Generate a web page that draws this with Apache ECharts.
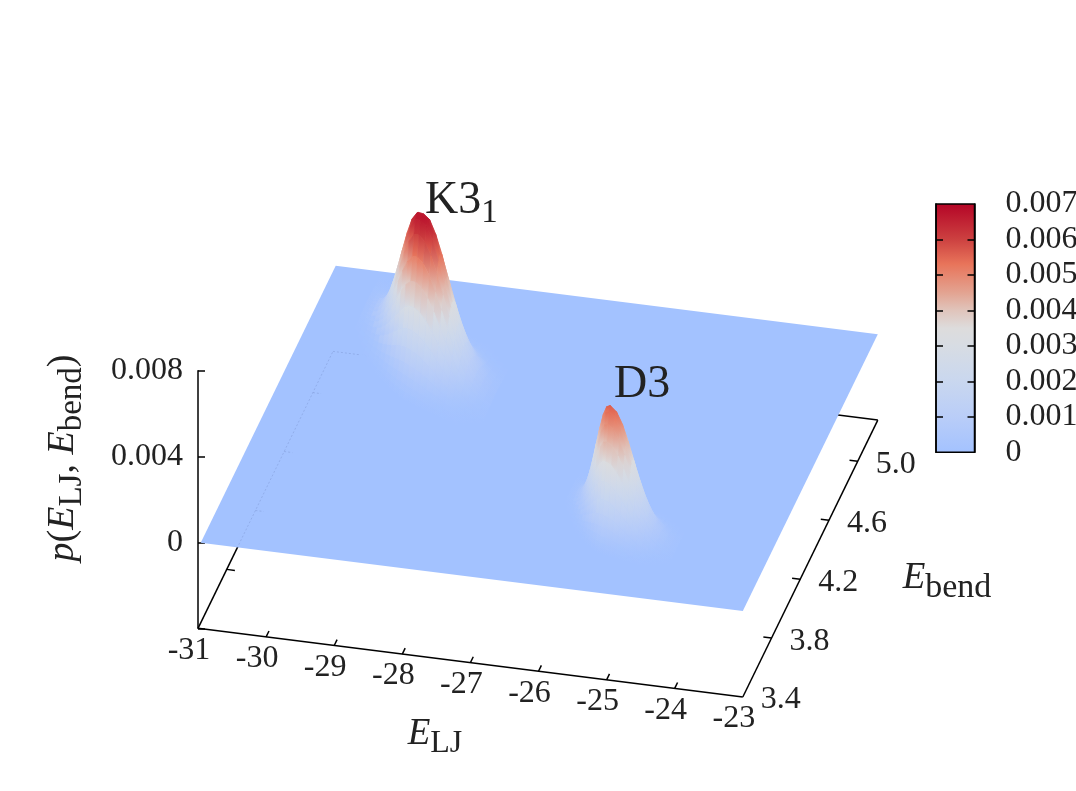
<!DOCTYPE html>
<html><head><meta charset="utf-8">
<style>html,body{margin:0;padding:0;background:#fff}#c{width:1076px;height:791px}</style>
<script src="https://cdn.jsdelivr.net/npm/echarts@6/dist/echarts.min.js"></script></head>
<body><div id="c"></div>
<script>
// tick labels
const eTicks=[-31,-30,-29,-28,-27,-26,-25,-24,-23];
const bendTicks=[3.4,3.8,4.2,4.6,5.0];
const zTicks=[0.008,0.004,0];
const colorbarTicks=[0,0.001,0.002,0.003,0.004,0.005,0.006,0.007];
const eRange=[-31,-23];
const bendRange=[3.4,5.28];
const zRange=[-0.004,0.008];
// extent of the p = 0 sheet
const planeE=[-30.96,-23];
// colour scale
const paletteValues=[0,0.001,0.002,0.003,0.0035,0.004,0.0045,0.0053,0.006,0.007];
const paletteColors=['#a3c2ff','#b9cdf8','#c9d7ef','#d7dce3','#dddcdc','#e0c4bb','#e3a391','#e8745a','#cc4040','#b40426'];
// K3_1 peak: ridge line and one quadrant of p (units 1e-6); the peak is read as symmetric about its ridge
const k31E=[-30.27,-30.175,-30.08,-29.985,-29.89,-29.795,-29.70,-29.605,-29.51,-29.415,-29.32,-29.225,-29.13,-29.025,-28.92,-28.815,-28.71,-28.605,-28.50,-28.395,-28.29,-28.185,-28.08,-27.975,-27.87];
const k31Ridge=[5.07,5.041,5.012,4.983,4.954,4.925,4.896,4.867,4.839,4.813,4.789,4.767,4.747,4.730,4.715,4.701,4.687,4.673,4.659,4.645,4.631,4.617,4.603,4.589,4.575];
const k31BendStep=0.022;
const k31Quad=[
[6750,6650,6137,5247,4219,3183,2259,1501,938,556,306,160,0],
[6680,6546,5965,5100,4100,3094,2195,1459,912,540,297,155,0],
[6206,6014,5480,4686,3767,2842,2017,1340,838,496,273,143,0],
[5386,5219,4756,4066,3269,2467,1750,1163,727,431,237,124,0],
[4413,4276,3897,3332,2679,2021,1434,953,596,353,194,101,0],
[3419,3313,3019,2581,2075,1566,1111,739,462,274,150,79,0],
[2502,2424,2209,1889,1519,1146,813,540,338,200,110,58,0],
[1731,1677,1528,1307,1051,793,563,374,234,138,76,40,0],
[1133,1098,1000,855,688,519,368,245,153,91,50,26,0],
[699,677,617,528,424,320,227,151,94,56,31,16,0],
[408,395,360,308,248,187,133,88,55,33,18,9,0],
[225,218,199,170,137,103,73,49,30,18,10,5,0],
[117,113,103,88,71,54,38,25,16,9,5,3,0]];
// D3 peak
const d3E=[-26.19,-26.125,-26.06,-25.995,-25.93,-25.865,-25.80,-25.735,-25.67,-25.605,-25.54,-25.475,-25.41,-25.32,-25.23,-25.14,-25.05,-24.96,-24.87,-24.78,-24.69,-24.60,-24.51,-24.42,-24.33];
const d3Ridge=[4.044,4.026,4.008,3.990,3.972,3.954,3.936,3.918,3.900,3.883,3.867,3.852,3.838,3.831,3.824,3.817,3.810,3.803,3.796,3.789,3.782,3.775,3.768,3.761,3.754];
const d3BendStep=0.015;
const d3Quad=[
[5600,5426,4945,4228,3399,2565,1820,1210,756,448,246,129,0],
[5426,5258,4791,4097,3294,2485,1763,1172,733,434,239,125,0],
[4945,4792,4366,3733,3002,2265,1607,1068,668,396,218,114,0],
[4228,4097,3733,3192,2566,1936,1374,913,571,338,186,97,0],
[3399,3294,3001,2566,2063,1557,1105,734,459,272,150,78,0],
[2565,2485,2265,1937,1557,1175,834,554,346,205,113,59,0],
[1820,1764,1607,1374,1105,834,592,393,246,146,80,42,0],
[1210,1172,1068,914,734,554,393,261,163,97,53,28,0],
[756,733,668,571,459,346,246,163,102,60,33,17,0],
[448,434,396,338,272,205,146,97,60,36,20,10,0],
[246,238,217,186,149,113,80,53,33,20,11,6,0],
[129,125,114,97,78,59,42,28,17,10,6,3,0],
[62,60,55,47,38,28,20,13,8,5,3,1,0]];

const SERIF='"Liberation Serif",serif', INK='#222222';
// oblique view: pixel position of the origin corner and of one unit along each data axis
const view={ox:198,oy:628.3,ex:68.1,ey:8.59,bx:71.8,by:-147.3,zy:-21480};
function project(e,b,z){
  const de=e-eRange[0], db=b-bendRange[0], dz=z-zRange[0];
  return [view.ox+de*view.ex+db*view.bx, view.oy+de*view.ey+db*view.by+dz*view.zy];
}
function colorOf(v){
  const n=paletteValues.length;
  if(v<=0) return paletteColors[0];
  for(let i=1;i<n;i++){ if(v<=paletteValues[i]){
    const t=(v-paletteValues[i-1])/(paletteValues[i]-paletteValues[i-1]);
    return echarts.color.lerp(t,[paletteColors[i-1],paletteColors[i]]);
  }}
  return paletteColors[n-1];
}
// table of mesh nodes from a quadrant
const N=12;
const fullMesh=(E,R,S,Q)=>({E,S,
  B:R.map(r=>r-N*S),
  P:E.map((_,i)=>Array.from({length:2*N+1},(_,j)=>Q[Math.abs(i-N)][Math.abs(j-N)]))});
const meshes=[fullMesh(k31E,k31Ridge,k31BendStep,k31Quad),fullMesh(d3E,d3Ridge,d3BendStep,d3Quad)];
// mesh cells, far to near
const cells=[];
meshes.forEach((M,k)=>{
  for(let i=0;i<2*N;i++) for(let j=0;j<2*N;j++){
    if(Math.max(M.P[i][j],M.P[i+1][j],M.P[i][j+1],M.P[i+1][j+1])<10) continue;
    if(Math.max(M.B[i],M.B[i+1])+(j+1)*M.S>bendRange[1]) continue;
    const e=(M.E[i]+M.E[i+1])/2, b=(M.B[i]+M.B[i+1])/2+(j+0.5)*M.S;
    cells.push([k,i,j,project(e,b,0)[1]]);
  }
});
cells.sort((a,b)=>a[3]-b[3]);

const sub=(size,pad)=>({fontFamily:SERIF,fontSize:size,color:INK,padding:[pad,0,0,0]});
const ital=(size)=>({fontFamily:SERIF,fontSize:size,fontStyle:'italic',color:INK});
const rom=(size)=>({fontFamily:SERIF,fontSize:size,color:INK});
const titles=[
 {x:435,y:734,rot:0,align:'center',text:'{i|E}{s|LJ}',rich:{i:ital(37),s:sub(32,20)}},
 {x:947,y:578,rot:0,align:'center',text:'{i|E}{s|bend}',rich:{i:ital(37),s:sub(34,20)}},
 {x:63,y:458,rot:Math.PI/2,align:'center',text:'{i|p}{r|(}{i|E}{s|LJ}{r|, }{i|E}{s|bend}{r|)}',rich:{i:ital(38),r:rom(38),s:sub(33,18)}},
 {x:425,y:201,rot:0,align:'left',text:'{r|K3}{s|1}',rich:{r:rom(46),s:sub(33,24)}},
 {x:614,y:385,rot:0,align:'left',text:'{r|D3}',rich:{r:rom(46)}}
];
const L={stroke:'#000',lineWidth:1.5};
const FAINT={stroke:'rgba(80,100,160,0.22)',lineWidth:1,lineDash:[2,2]};
const faintBackEnd=-30.13, faintLeftStart=3.943, faintBendTicks=[4.2,4.6,5.0];
function seg(api,a,b,style){
  const p=api.coord(a),q=api.coord(b);
  return {type:'line',shape:{x1:p[0],y1:p[1],x2:q[0],y2:q[1]},style:style||L};
}
const zb=zRange[0];
const inner=colorbarTicks.slice(1,-1);
const chart=echarts.init(document.getElementById('c'));
chart.setOption({
 animation:false,backgroundColor:'#fff',
 grid:[
  {left:0,top:0,right:0,bottom:0,show:false,outerBoundsMode:'none'},
  {left:198,top:370.8,width:1,height:257.5,show:false,outerBoundsMode:'none'},
  {left:936,top:204,width:38.5,height:248.3,show:false,outerBoundsMode:'none'}
 ],
 xAxis:[
  {type:'value',min:0,max:1076,show:false,gridIndex:0},
  {type:'value',min:0,max:1,show:false,gridIndex:1},
  {type:'value',min:0,max:1,show:false,gridIndex:2}
 ],
 yAxis:[
  {type:'value',min:0,max:791,inverse:true,show:false,gridIndex:0},
  {type:'value',gridIndex:1,min:zRange[0],max:zRange[1],interval:0.004,position:'left',splitLine:{show:false},
   axisLine:{onZero:false,lineStyle:{color:'#000',width:1.5}},axisTick:{inside:true,length:7,lineStyle:{color:'#000',width:1.5}},
   axisLabel:{margin:15,color:INK,fontFamily:SERIF,fontSize:32,
     formatter:v=>{const s=zTicks.find(t=>Math.abs(t-v)<1e-9);return s===undefined?'':(s===0?'0':s.toFixed(3));}}},
  {type:'value',gridIndex:2,min:0,max:0.007,interval:0.001,position:'right',splitLine:{show:false},z:5,
   axisLine:{onZero:false,lineStyle:{color:'#000',width:1.5}},axisTick:{inside:true,length:7,customValues:inner,lineStyle:{color:'#000',width:1.5}},
   axisLabel:{margin:31,color:INK,fontFamily:SERIF,fontSize:32,showMinLabel:true,showMaxLabel:true,
     formatter:v=>{const s=colorbarTicks.find(t=>Math.abs(t-v)<1e-9);return s===0?'0':s.toFixed(3);}}},
  {type:'value',gridIndex:2,min:0,max:0.007,interval:0.001,position:'left',splitLine:{show:false},z:5,
   axisLine:{onZero:false,lineStyle:{color:'#000',width:1.5}},axisTick:{inside:true,length:7,customValues:inner,lineStyle:{color:'#000',width:1.5}},axisLabel:{show:false}}
 ],
 series:[
  // base frame
  {type:'custom',coordinateSystem:'cartesian2d',xAxisIndex:0,yAxisIndex:0,z:1,silent:true,clip:false,data:[[0]],
   renderItem:(p,api)=>({type:'group',children:[
     seg(api,project(eRange[0],bendRange[0],zb),project(eRange[1],bendRange[0],zb)),
     seg(api,project(eRange[1],bendRange[0],zb),project(eRange[1],bendRange[1],zb)),
     seg(api,project(eRange[0],bendRange[0],zb),project(eRange[0],bendRange[1],zb)),
     seg(api,project(eRange[0],bendRange[1],zb),project(eRange[1],bendRange[1],zb))
   ]})},
  // E_LJ ticks
  {type:'custom',coordinateSystem:'cartesian2d',xAxisIndex:0,yAxisIndex:0,z:1,silent:true,clip:false,data:eTicks.map(v=>[v]),
   renderItem:(p,api)=>{const v=api.value(0),a=project(v,bendRange[0],zb),c=api.coord(a);const ch=[
      {type:'text',style:{x:c[0]-9,y:c[1]+22,text:String(v),align:'center',verticalAlign:'middle',fill:INK,font:'32px '+SERIF}}];
      if(v!==eRange[0]&&v!==eRange[1]) ch.push(seg(api,a,project(v,bendRange[0]+0.04,zb)));
      return {type:'group',children:ch};}},
  // E_bend ticks
  {type:'custom',coordinateSystem:'cartesian2d',xAxisIndex:0,yAxisIndex:0,z:1,silent:true,clip:false,data:bendTicks.map(v=>[v]),
   renderItem:(p,api)=>{const v=api.value(0),a=project(eRange[1],v,zb),c=api.coord(a);const ch=[
      {type:'text',style:{x:c[0]+38,y:c[1]+3,text:v.toFixed(1),align:'center',verticalAlign:'middle',fill:INK,font:'32px '+SERIF}}];
      if(v!==bendRange[0]){ch.push(seg(api,a,project(eRange[1]-0.12,v,zb)));
        ch.push(seg(api,project(eRange[0],v,zb),project(eRange[0]+0.12,v,zb)));}
      return {type:'group',children:ch};}},
  // plane p = 0
  {type:'custom',coordinateSystem:'cartesian2d',xAxisIndex:0,yAxisIndex:0,z:2,silent:true,clip:false,data:[[0]],
   renderItem:(p,api)=>({type:'polygon',shape:{points:[
      project(planeE[0],bendRange[0],0),project(planeE[1],bendRange[0],0),
      project(planeE[1],bendRange[1],0),project(planeE[0],bendRange[1],0)].map(q=>api.coord(q))},
      style:{fill:paletteColors[0]}})},
  // frame seen faintly through the sheet
  {type:'custom',coordinateSystem:'cartesian2d',xAxisIndex:0,yAxisIndex:0,z:2.5,silent:true,clip:false,data:[[0]],
   renderItem:(p,api)=>({type:'group',children:[
      seg(api,project(eRange[0],faintLeftStart,zb),project(eRange[0],bendRange[1],zb),FAINT),
      seg(api,project(eRange[0],bendRange[1],zb),project(faintBackEnd,bendRange[1],zb),FAINT)
    ].concat(faintBendTicks.map(v=>seg(api,project(eRange[0],v,zb),project(eRange[0]+0.12,v,zb),FAINT)))})},
  // surface peaks
  {type:'custom',coordinateSystem:'cartesian2d',xAxisIndex:0,yAxisIndex:0,z:3,silent:true,clip:false,data:cells,
   renderItem:(p,api)=>{
     const M=meshes[api.value(0)],i=api.value(1),j=api.value(2);
     const vs=[[i,j],[i+1,j],[i+1,j+1],[i,j+1]].map(([a,c])=>{
       const z=M.P[a][c]*1e-6;
       return {z,q:api.coord(project(M.E[a],M.B[a]+c*M.S,z))};});
     let top=vs[0],bot=vs[0];
     vs.forEach(v=>{if(v.q[1]<top.q[1])top=v;if(v.q[1]>bot.q[1])bot=v;});
     const fill=new echarts.graphic.LinearGradient(0,top.q[1],0,Math.max(bot.q[1],top.q[1]+0.01),
       [{offset:0,color:colorOf(top.z)},{offset:1,color:colorOf(bot.z)}],true);
     return {type:'polygon',shape:{points:vs.map(v=>v.q)},style:{fill,stroke:fill,lineWidth:0.6}};
   }},
  // titles and annotations
  {type:'custom',coordinateSystem:'cartesian2d',xAxisIndex:0,yAxisIndex:0,z:4,silent:true,clip:false,data:titles.map((t,i)=>[i]),
   renderItem:(p,api)=>{const t=titles[api.value(0)],c=api.coord([t.x,t.y]);
     return {type:'text',x:c[0],y:c[1],rotation:t.rot,style:{x:0,y:0,text:t.text,rich:t.rich,align:t.align,verticalAlign:'middle',fill:INK}};}},
  // colour box
  {type:'custom',coordinateSystem:'cartesian2d',xAxisIndex:2,yAxisIndex:2,z:2,silent:true,clip:false,data:[[0]],
   renderItem:(p,api)=>{const a=api.coord([0,colorbarTicks[colorbarTicks.length-1]]),b=api.coord([1,0]);
     return {type:'rect',shape:{x:a[0],y:a[1],width:b[0]-a[0],height:b[1]-a[1]},style:{
       stroke:'#000',lineWidth:1.5,
       fill:new echarts.graphic.LinearGradient(0,0,0,1,paletteValues.map((v,i)=>({offset:1-v/0.007,color:paletteColors[i]})).reverse())}};}}
 ]
});
</script></body></html>
